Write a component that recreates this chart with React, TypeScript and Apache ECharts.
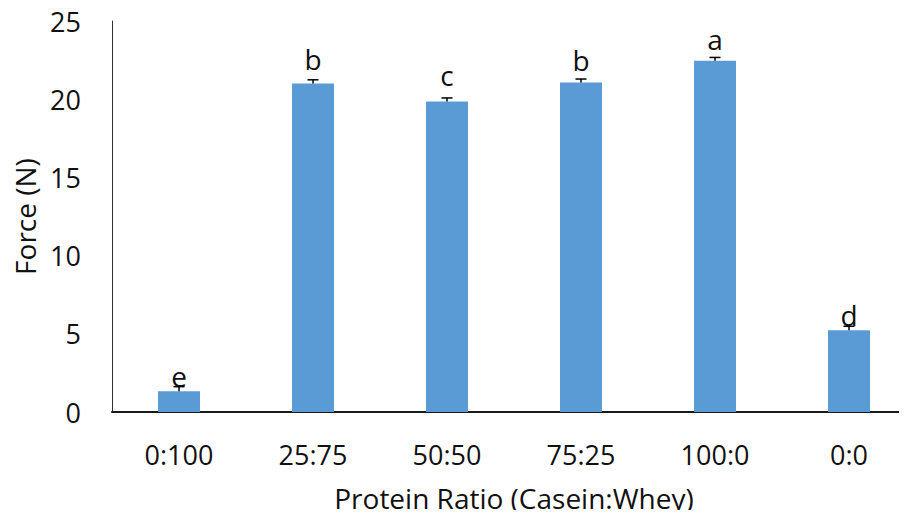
import React, { useEffect, useRef } from "react";
import * as echarts from "echarts";

// Casein:Whey protein ratios and the peak force measured for each
const categories = ["0:100", "25:75", "50:50", "75:25", "100:0", "0:0"];
const forceN = [1.32, 21.0, 19.86, 21.07, 22.46, 5.22];
const forceErr = [0.3, 0.24, 0.22, 0.22, 0.21, 0.26];
const groupLetters = ["e", "b", "c", "b", "a", "d"];
const yTicks = [0, 5, 10, 15, 20, 25];

// vertical gap between bar top and its significance letter
const letterGap = [1, 11, 12, 8, 8, 1];

const FONT = "'Open Sans', sans-serif";
const BAR_COLOR = "#5B9BD5";

export default function App() {
  const ref = useRef<HTMLDivElement>(null);

  useEffect(() => {
    if (!ref.current) return;
    const chart = echarts.init(ref.current, undefined, { renderer: "svg" });

    const barData = forceN.map((v, i) => ({
      value: v,
      label: { distance: letterGap[i] },
    }));

    chart.setOption({
      animation: false,
      backgroundColor: "#ffffff",
      grid: {
        left: 112,
        top: 21,
        width: 804,
        height: 391,
        containLabel: false,
        outerBoundsMode: "none",
      },
      xAxis: {
        type: "category",
        data: categories,
        name: "Protein Ratio (Casein:Whey)",
        nameLocation: "middle",
        nameGap: 72,
        nameTextStyle: {
          fontFamily: FONT,
          fontSize: 28,
          lineHeight: 28,
          color: "#111",
        },
        axisLine: { lineStyle: { color: "#1a1a1a", width: 2 } },
        axisTick: { show: false },
        axisLabel: {
          fontFamily: FONT,
          fontSize: 27,
          color: "#111",
          margin: 29,
        },
      },
      yAxis: {
        type: "value",
        min: yTicks[0],
        max: yTicks[yTicks.length - 1],
        interval: 5,
        name: "Force (N)",
        nameLocation: "middle",
        nameGap: 71,
        nameTextStyle: { fontFamily: FONT, fontSize: 28, color: "#111" },
        axisLine: { show: true, lineStyle: { color: "#333", width: 1 } },
        axisTick: { show: false },
        splitLine: { show: false },
        axisLabel: {
          fontFamily: FONT,
          fontSize: 27,
          color: "#111",
          margin: 31,
        },
      },
      series: [
        {
          type: "bar",
          data: barData,
          barWidth: 42,
          itemStyle: { color: BAR_COLOR },
          label: {
            show: true,
            position: "top",
            fontFamily: FONT,
            fontSize: 28,
            color: "#111",
            formatter: (p: any) => groupLetters[p.dataIndex],
          },
          z: 2,
        },
        {
          type: "custom",
          data: forceN.map((v, i) => [i, v, forceErr[i]]),
          z: 3,
          renderItem: (params: any, api: any) => {
            const x = api.value(0);
            const top = api.coord([x, api.value(1) + api.value(2)]);
            const base = api.coord([x, api.value(1)]);
            const half = 5.5;
            return {
              type: "group",
              children: [
                {
                  type: "line",
                  shape: { x1: base[0], y1: base[1], x2: top[0], y2: top[1] },
                  style: { stroke: "#000", lineWidth: 1.5 },
                },
                {
                  type: "line",
                  shape: {
                    x1: top[0] - half,
                    y1: top[1],
                    x2: top[0] + half,
                    y2: top[1],
                  },
                  style: { stroke: "#000", lineWidth: 1.5 },
                },
              ],
            };
          },
        },
      ],
    });

    return () => chart.dispose();
  }, []);

  return <div ref={ref} style={{ width: 907, height: 518, margin: -8 }} />;
}
